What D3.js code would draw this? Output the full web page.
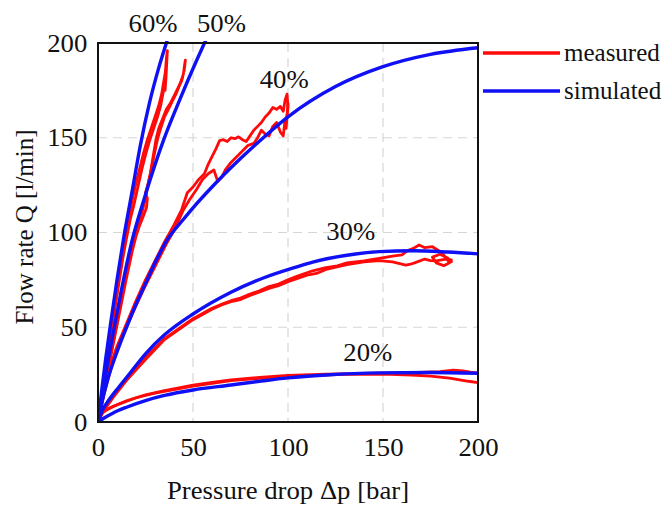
<!DOCTYPE html>
<html>
<head>
<meta charset="utf-8">
<script src="https://cdn.jsdelivr.net/npm/d3@7"></script>
<style>
  html, body { margin: 0; padding: 0; background: #fff; }
  svg { display: block; }
</style>
</head>
<body>
<svg id="chart" width="666" height="508"></svg>
<script>
// Axis ticks
const xTicks = [0, 50, 100, 150, 200];
const yTicks = [0, 50, 100, 150, 200];

// Valve openings and their label positions (dp, Q)
const openings = ["20%", "30%", "40%", "50%", "60%"];
const labelAt = [[142, 32], [133, 96], [98, 176], [65, 206], [29, 206]];

// Simulated characteristics [dp (bar), Q (l/min)]
const sim20 = [[0,0],[3,2],[8,4.8],[15,7.8],[25,11.3],[35,14],[50,16.9],[70,19.5],[85,21.5],[100,23.3],[120,24.8],[148,25.9],[175,26.1],[200,25.7]];
const sim30 = [[0,0],[2,5.5],[6,12],[11,18.5],[17,26],[25,36],[35,46],[50,57],[70,68.5],[87,76],[105,82],[113,84.4],[131,88],[148,89.9],[166,90.4],[184,89.7],[200,88.7]];
const sim40 = [[0,0],[2,10],[5,22],[10,37],[15,50],[20,62],[25,73],[30,84],[37,97],[45,107],[50,113],[60,124],[75,139],[87,150],[100,161],[125,177],[150,187.5],[175,194],[200,197.5]];
const sim50 = [[0,0],[2,13],[4,25],[8.2,48],[12,68],[17.5,94],[25,120],[34.6,149],[43,170],[52,191],[56.5,201]];
const sim60 = [[0,0],[2,17],[4,33],[6.5,51],[10,75],[13.5,97],[18,122],[22.3,146],[27,168],[32,187],[36.3,201]];

// Measured characteristics, two runs per opening [dp (bar), Q (l/min)]
const meas20a = [[0,0],[1,3],[3,5.5],[8,8.3],[15,11.2],[25,14.3],[35,16.5],[50,19.4],[60,20.9],[70,22.2],[85,23.6],[100,24.6],[120,25.3],[135,25.5],[148,25.8],[165,26],[180,26.6],[187,27.4],[192,27],[196,26.3],[200,25.8]];
const meas20b = [[0,0],[2,4.5],[5,6.8],[10,9],[20,12.8],[30,15.2],[50,18.9],[70,21.8],[90,23.4],[110,24.5],[130,25.1],[150,25.3],[165,24.8],[175,24.2],[185,23.2],[195,21.5],[200,20.8]];
const meas30a = [[0,0],[2,5],[5,10],[10,16.5],[17,24.5],[25,34],[35,44],[50,54.5],[60,60],[66,62.5],[70,64],[75,65.4],[80,67.5],[85,69.2],[90,71.5],[95,72.8],[100,75],[105,77],[113,79.8],[120,81.5],[126,82.4],[131,84],[140,85],[148,86.4],[155,87.5],[160,88.2],[163,90.5],[166,91.6],[169,93.4],[172,92],[176,92.5],[180,90],[183,87],[185,84],[182,82.5],[178,84],[176,87],[180,88.5],[184,86.5],[186,84.5]];
const meas30b = [[0,0],[3,6],[8,13],[15,22],[25,33],[35,43.5],[50,54],[60,59.5],[65,61.8],[70,63.5],[75,64.6],[80,66.8],[90,70.5],[95,71.9],[100,74],[110,77.5],[115,78.4],[120,80.5],[131,83],[140,84.5],[148,85.2],[155,84.5],[162,82.8],[165,83.4],[168,84.5],[172,86],[175,85.2],[178,85],[183,86],[186,85.5]];
const meas40a = [[0,0],[2,12],[5,25],[10,40],[15,52],[20,64],[25,75],[30,85],[35,95],[40,104],[44,112],[47,121],[50,124],[53,128],[56,131],[58,136],[60,140],[62,144],[64,148.5],[66,149],[68,148],[70,150],[72,149.5],[74,150.5],[76,149],[78,148],[80,151],[82,154],[84,156],[86,158],[88,161],[90,163],[92,166],[94,165],[96,166.5],[97.5,164],[98.5,170],[99.5,173],[100,166],[99,158]];
const meas40b = [[0,0],[3,14],[7,29],[12,43],[18,57],[24,70],[30,82],[36,94],[40,101],[45,112],[48,117],[52,123],[55,128],[58,131],[61,133],[63,127],[65,129],[67,133],[70,137],[73,140],[76,143],[79,146],[82,147],[84,150],[86,154],[88,152],[90,151],[92,156],[94,158],[96,153],[97.5,151],[98.5,160],[99,155],[100,168]];
const meas50a = [[0,0],[2,10],[5,27],[8,42],[11,58],[14,73],[17,87],[19,97],[21,104],[23,110],[25,118],[26,124],[27.5,131],[29,140],[30.5,149],[32,155],[34,160],[36,165],[38,168],[40,172],[42,176],[44,180],[45,184],[45.5,188],[46,191],[45.3,185],[45.8,189]];
const meas50b = [[0,0],[3,15],[6,31],[9,46],[12,61],[15,76],[18,90],[20,98],[22,104],[24,109],[25.5,113],[26,118],[25,121],[26.5,126],[28,133],[30,143],[31.5,150],[33,155],[35,161],[37,165],[39,169],[41,173],[43,178],[44.5,182]];
const meas60a = [[0,0],[1,7],[3,20],[6,42],[9,62],[12,82],[14,95],[16,107],[18,117],[20,126],[22,134],[24,142],[26,149],[28,155],[30,161],[32,167],[33.5,173],[34.5,179],[35.5,185],[36,192],[36.5,196],[35.8,182],[35.3,175],[35.5,186]];
const meas60b = [[0,0],[2,13],[4,28],[7,48],[10,67],[13,86],[15,97],[17,107],[19,115],[21,124],[23,133],[25,141],[27,148],[29,154],[31,160],[33,167],[34.5,175],[35.5,182]];

const measured = [meas20a, meas20b, meas30a, meas30b, meas40a, meas40b, meas50a, meas50b, meas60a, meas60b];
const simulated = [sim20, sim30, sim40, sim50, sim60];

const legendItems = ["measured", "simulated"];
const colors = { measured: "#ff0a0a", simulated: "#1010f5" };

const FONT = '"Liberation Serif", "Times New Roman", serif';
const FS = 25;
const WIDEN = 1.07;   // slightly widened lettering

const svg = d3.select("#chart");
const plot = { left: 98, right: 478, top: 43, bottom: 422 };

const x = d3.scaleLinear().domain([0, 200]).range([plot.left, plot.right]);
const y = d3.scaleLinear().domain([0, 200]).range([plot.bottom, plot.top]);

svg.append("defs").append("clipPath").attr("id", "plotClip")
  .append("rect")
  .attr("x", plot.left).attr("y", plot.top - 2)
  .attr("width", plot.right - plot.left).attr("height", plot.bottom - plot.top + 2);

// Dashed grid
const grid = svg.append("g").attr("stroke", "#d6d6d6").attr("stroke-width", 1.2)
  .attr("stroke-dasharray", "9,6");
grid.selectAll("line.v").data(xTicks.slice(1, -1)).join("line")
  .attr("class", "v")
  .attr("x1", d => x(d)).attr("x2", d => x(d))
  .attr("y1", plot.top).attr("y2", plot.bottom);
grid.selectAll("line.h").data(yTicks.slice(1, -1)).join("line")
  .attr("class", "h")
  .attr("y1", d => y(d)).attr("y2", d => y(d))
  .attr("x1", plot.left).attr("x2", plot.right);

// Tick labels through d3 axes
const xAxis = svg.append("g").attr("transform", `translate(0,${plot.bottom})`)
  .call(d3.axisBottom(x).tickValues(xTicks).tickSize(0).tickPadding(16));
const yAxis = svg.append("g").attr("transform", `translate(${plot.left},0)`)
  .call(d3.axisLeft(y).tickValues(yTicks).tickSize(0).tickPadding(10));
[xAxis, yAxis].forEach(a => {
  a.attr("font-family", null).attr("font-size", null);
  a.select(".domain").remove();
  a.selectAll("text").style("font-family", FONT)
    .style("font-size", FS + "px").attr("fill", "#111")
    .attr("transform", `scale(${WIDEN},1)`);
});

// Curves
const line = d3.line().x(d => x(d[0])).y(d => y(d[1]));
const smooth = d3.line().x(d => x(d[0])).y(d => y(d[1])).curve(d3.curveMonotoneX);
const curves = svg.append("g").attr("clip-path", "url(#plotClip)").attr("fill", "none")
  .attr("stroke-linejoin", "round").attr("stroke-linecap", "round");
curves.selectAll("path.meas").data(measured).join("path")
  .attr("class", "meas").attr("d", line)
  .attr("stroke", colors.measured).attr("stroke-width", 2.8);
curves.selectAll("path.sim").data(simulated).join("path")
  .attr("class", "sim").attr("d", smooth)
  .attr("stroke", colors.simulated).attr("stroke-width", 3.4);

// Frame
svg.append("rect")
  .attr("x", plot.left).attr("y", plot.top)
  .attr("width", plot.right - plot.left).attr("height", plot.bottom - plot.top)
  .attr("fill", "none").attr("stroke", "#111").attr("stroke-width", 2);

// Text placed at (px, py), optionally widened horizontally about its anchor point
function putText(px, py, str, anchor, widen) {
  return svg.append("text")
    .attr("transform", `translate(${px},${py}) scale(${widen || WIDEN},1)`)
    .attr("text-anchor", anchor || "start")
    .style("font-family", FONT).style("font-size", FS + "px").attr("fill", "#111")
    .text(str);
}

// Opening labels
openings.forEach((t, i) => putText(x(labelAt[i][0]), y(labelAt[i][1]), t, "middle"));

// Legend
legendItems.forEach((k, i) => {
  const ly = 53 + i * 38;
  svg.append("line").attr("x1", 483).attr("x2", 560).attr("y1", ly).attr("y2", ly)
    .attr("stroke", colors[k]).attr("stroke-width", 3.4);
  putText(564, ly + 8, k, "start", 1);
});

// Axis titles
putText((plot.left + plot.right) / 2, 499, "Pressure drop Δp [bar]", "middle");
svg.append("text").attr("transform", "translate(33,227) rotate(-90)")
  .attr("text-anchor", "middle")
  .style("font-family", FONT).style("font-size", FS + "px").attr("fill", "#111")
  .text("Flow rate Q [l/min]");
</script>
</body>
</html>
